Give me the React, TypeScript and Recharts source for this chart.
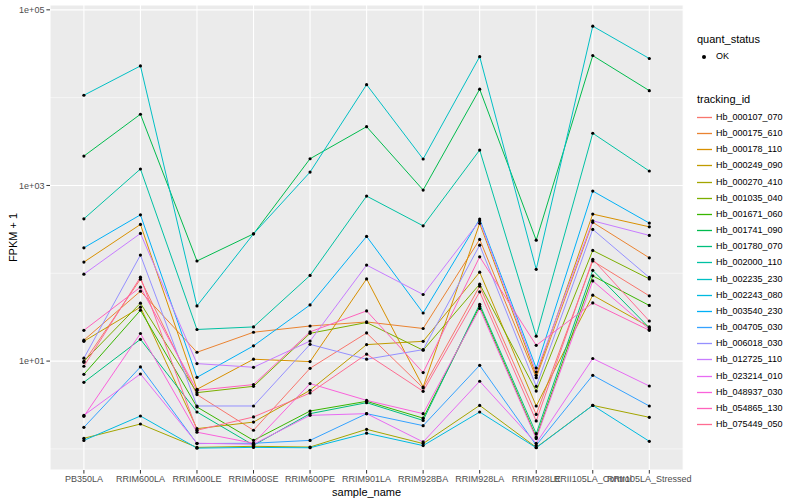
import React from 'react'
import { LineChart, Line, XAxis, YAxis, CartesianGrid, ReferenceLine } from 'recharts'

const FONT = '"Liberation Sans", Arial, Helvetica, sans-serif'

const samples = [
  'PB350LA', 'RRIM600LA', 'RRIM600LE', 'RRIM600SE', 'RRIM600PE', 'RRIM901LA',
  'RRIM928BA', 'RRIM928LA', 'RRIM928LE', 'RRII105LA_Control', 'RRII105LA_Stressed',
]

// FPKM + 1 per sample, one array per transcript
const hb000107 = [9.69, 85.7, 4.15, 1.63, 8.28, 20.9, 4.94, 71.3, 2.47, 138, 55.3]
const hb000175 = [17.3, 62.5, 12.6, 21.3, 25.1, 27.9, 23.5, 243, 6.48, 380, 150]
const hb000178 = [134, 360, 4.77, 10.5, 9.87, 86.3, 5.07, 370, 6.89, 472, 338]
const hb000249 = [16.8, 41.1, 1.7, 2.02, 4.65, 15.4, 16.8, 103, 3.08, 56.3, 24.5]
const hb000270 = [1.32, 1.92, 1.04, 1.07, 1.05, 1.67, 1.15, 3.13, 1.04, 3.13, 2.29]
const hb001035 = [9.95, 45.6, 4.37, 5.16, 20.7, 27.5, 13.3, 75.1, 4.56, 182, 86.3]
const hb001671 = [7.07, 37.9, 3.0, 1.25, 2.7, 3.48, 2.24, 42.2, 1.36, 93.4, 43.0]
const hb001741 = [2160, 6470, 138, 281, 2015, 4670, 887, 12470, 238, 30100, 12020]
const hb001780 = [5.73, 17.7, 2.63, 1.1, 2.52, 3.36, 2.11, 44.4, 1.49, 108, 23.9]
const hb002000 = [417, 1540, 22.9, 24.5, 94.4, 757, 347, 2530, 19.2, 3930, 1460]
const hb002235 = [10650, 22970, 42.5, 281, 1420, 14060, 2000, 29300, 111, 65200, 27900]
const hb002243 = [1.25, 2.37, 1.02, 1.04, 1.03, 1.51, 1.09, 2.63, 1.03, 3.13, 1.22]
const hb003540 = [195, 463, 6.53, 14.9, 43.6, 263, 35.3, 414, 8.34, 863, 373]
const hb004705 = [1.76, 8.57, 1.15, 1.16, 1.25, 2.52, 1.84, 8.95, 1.1, 6.89, 3.08]
const hb006018 = [10.8, 161, 3.08, 3.08, 15.5, 10.5, 13.5, 209, 5.16, 316, 89.6]
const hb012725 = [97.7, 284, 9.36, 8.5, 16.9, 124, 57.3, 396, 7.51, 396, 270]
const hb023214 = [2.41, 7.13, 1.16, 1.13, 2.41, 2.52, 1.2, 5.89, 1.16, 10.7, 5.2]
const hb048937 = [2.35, 20.6, 1.55, 1.16, 5.54, 3.57, 2.52, 39.7, 1.31, 81.9, 23.0]
const hb054865 = [22.4, 69.5, 4.65, 5.4, 21.5, 37.3, 7.39, 154, 15.1, 45.9, 22.4]
const hb075449 = [8.73, 90.3, 1.63, 2.31, 4.33, 12.0, 4.53, 61.4, 2.08, 144, 28.6]

const trackingIds = [
  'Hb_000107_070', 'Hb_000175_610', 'Hb_000178_110', 'Hb_000249_090', 'Hb_000270_410',
  'Hb_001035_040', 'Hb_001671_060', 'Hb_001741_090', 'Hb_001780_070', 'Hb_002000_110',
  'Hb_002235_230', 'Hb_002243_080', 'Hb_003540_230', 'Hb_004705_030', 'Hb_006018_030',
  'Hb_012725_110', 'Hb_023214_010', 'Hb_048937_030', 'Hb_054865_130', 'Hb_075449_050',
]
const seriesValues = [
  hb000107, hb000175, hb000178, hb000249, hb000270, hb001035, hb001671, hb001741, hb001780, hb002000,
  hb002235, hb002243, hb003540, hb004705, hb006018, hb012725, hb023214, hb048937, hb054865, hb075449,
]
// ggplot default hue palette, 20 levels
const colors = [
  '#F8766D', '#EA8331', '#D89000', '#C09B00', '#A3A500', '#7CAE00', '#39B600', '#00BB4E', '#00BF7D', '#00C1A3',
  '#00BFC4', '#00BAE0', '#00B0F6', '#35A2FF', '#9590FF', '#C77CFF', '#E76BF3', '#FA62DB', '#FF62BC', '#FF6C91',
]

const majorTicks = [10, 1000, 100000]
const majorLabels = ['1e+01', '1e+03', '1e+05']
const minorTicks = [1, 100, 10000]

const rows = samples.map((sample, i) => {
  const row: Record<string, string | number> = { sample }
  trackingIds.forEach((id, k) => { row[id] = seriesValues[k][i] })
  return row
})

const YTitle = (props: any) => {
  const vb = props.viewBox || { x: 0, y: 5, width: 50, height: 465 }
  const cx = vb.x + 13
  const cy = vb.y + vb.height / 2
  return (
    <text x={cx} y={cy} transform={`rotate(-90 ${cx} ${cy})`} textAnchor="middle"
      dominantBaseline="central" fontSize={11} fill="#000" fontFamily={FONT}>
      FPKM + 1
    </text>
  )
}

function LegendBox() {
  const rowStep = 16.16
  return (
    <div style={{ position: 'absolute', left: 696, top: 0, width: 104, height: 500, fontFamily: FONT, color: '#000' }}>
      <div style={{ position: 'absolute', left: 1, top: 33, fontSize: 11, lineHeight: '13px' }}>quant_status</div>
      <div style={{ position: 'absolute', left: 6, top: 55, width: 4, height: 4, borderRadius: 2, background: '#000' }} />
      <div style={{ position: 'absolute', left: 20, top: 51, fontSize: 9, lineHeight: '11px' }}>OK</div>
      <div style={{ position: 'absolute', left: 1, top: 93, fontSize: 11, lineHeight: '13px' }}>tracking_id</div>
      <svg width={18} height={360} style={{ position: 'absolute', left: 0, top: 100 }}>
        {trackingIds.map((id, k) => {
          const y = Math.round(17 + k * rowStep) + 0.5
          return <line key={id} x1={1} x2={16} y1={y} y2={y} stroke={colors[k]} strokeWidth={1.3} />
        })}
      </svg>
      {trackingIds.map((id, k) => {
        const top = Math.round(109 + k * rowStep)
        return (
          <div key={id} style={{ position: 'absolute', left: 20, top: top + 3, fontSize: 9, lineHeight: '11px' }}>{id}</div>
        )
      })}
    </div>
  )
}

export default function App() {
  return (
    <div style={{ position: 'relative', width: 800, height: 500, background: '#fff', fontFamily: FONT }}>
      <style>{'body{margin:0}'}</style>
      <LineChart width={800} height={500} data={rows} margin={{ top: 5, right: 116.8, bottom: 0, left: 0 }}>
        <CartesianGrid fill="#EBEBEB" fillOpacity={1} stroke="#FFFFFF" strokeWidth={1.1} />
        {minorTicks.map((v) => (
          <ReferenceLine key={v} y={v} stroke="#FFFFFF" strokeWidth={0.55} />
        ))}
        <XAxis
          dataKey="sample"
          type="category"
          interval={0}
          padding={{ left: 33.9, right: 33.9 }}
          height={30}
          axisLine={false}
          tickLine={{ stroke: '#333333' }}
          tickSize={3.6}
          tickMargin={2}
          tick={{ fontSize: 9, fill: '#4D4D4D', fontFamily: FONT }}
          label={{ value: 'sample_name', position: 'insideBottom', offset: 4, fontSize: 11, fill: '#000', fontFamily: FONT }}
        />
        <YAxis
          scale="log"
          domain={[0.575, 113500]}
          allowDataOverflow
          ticks={majorTicks}
          tickFormatter={(v: number) => majorLabels[majorTicks.indexOf(v)] ?? String(v)}
          width={50}
          axisLine={false}
          tickLine={{ stroke: '#333333' }}
          tickSize={3.6}
          tickMargin={2}
          tick={{ fontSize: 9, fill: '#4D4D4D', fontFamily: FONT }}
          label={<YTitle />}
        />
        {trackingIds.map((id, k) => (
          <Line key={id} dataKey={id} stroke={colors[k]} strokeWidth={1} dot={false}
            activeDot={false} isAnimationActive={false} />
        ))}
        {trackingIds.map((id) => (
          <Line key={id + '-pt'} dataKey={id} stroke="none" dot={{ r: 1.6, fill: '#000', stroke: 'none' }}
            activeDot={false} isAnimationActive={false} legendType="none" />
        ))}
      </LineChart>
      <LegendBox />
    </div>
  )
}
